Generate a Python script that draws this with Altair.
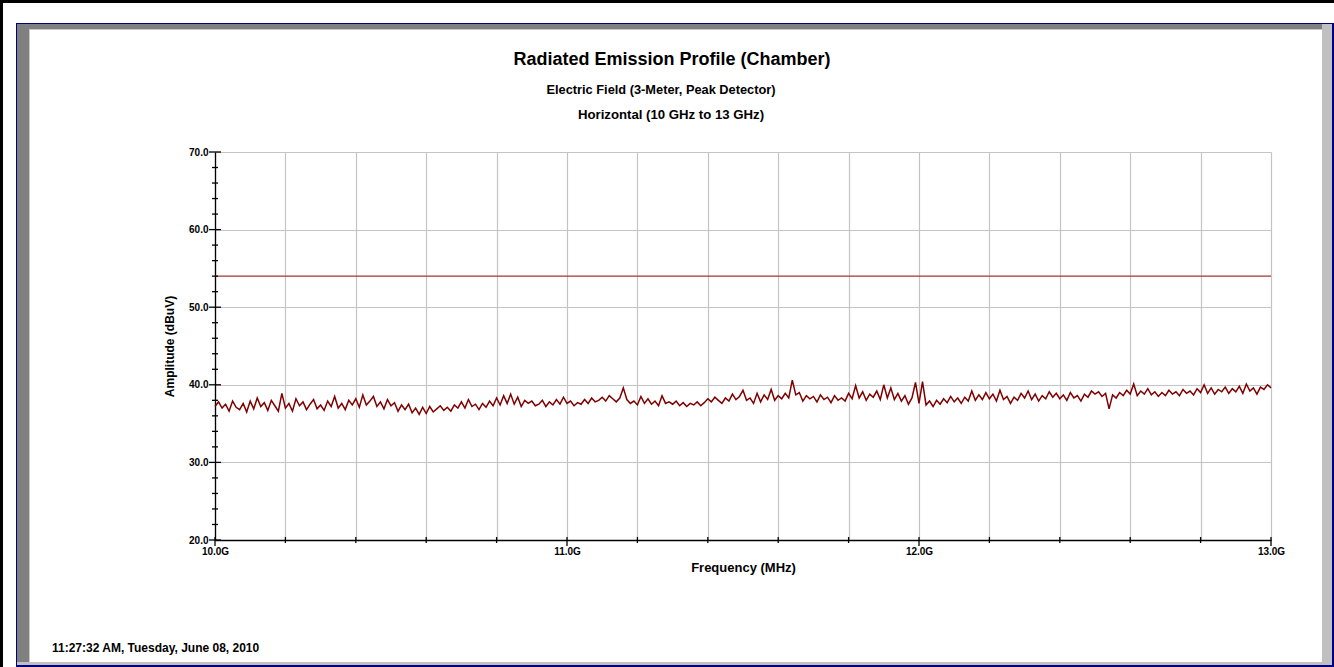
import altair as alt
import pandas as pd

# ---------------- data ----------------
freq_start = 10.0
freq_step = 0.01
amplitude = [
    # 10.00 - 10.99
    37.2, 37.8, 37.0, 37.5, 36.6, 37.9, 37.1, 36.8, 37.6, 36.5,
    37.9, 36.9, 38.3, 37.2, 37.7, 36.7, 38.0, 37.3, 36.6, 38.9,
    37.0, 37.6, 36.6, 38.2, 37.3, 37.8, 36.8, 37.5, 38.1, 36.9,
    37.4, 36.7, 37.9, 37.2, 38.5, 37.0, 37.6, 36.8, 38.0, 37.4,
    38.2, 37.1, 38.7, 37.4, 37.9, 38.5, 37.2, 37.8, 36.9, 38.1,
    37.3, 37.7, 36.6, 37.4, 36.8, 37.5, 36.4, 37.0, 36.2, 37.1,
    36.3, 37.2, 36.5, 36.9, 37.3, 36.7, 37.1, 36.6, 37.4, 37.0,
    37.8, 37.0, 38.1, 37.2, 37.5, 36.8, 37.6, 37.1, 37.9, 37.3,
    38.3, 37.4, 38.6, 37.6, 38.8, 37.5, 38.4, 37.2, 38.0, 37.6,
    37.9, 37.3, 37.5, 38.0, 37.2, 37.8, 37.4, 38.1, 37.5, 38.4,
    # 11.00 - 11.99
    37.6, 37.9, 37.3, 37.7, 37.5, 38.1, 37.6, 38.3, 37.8, 38.0,
    38.4, 37.9, 38.6, 38.2, 37.8, 38.3, 39.6, 38.1, 37.6, 37.9,
    37.4, 38.5, 37.6, 38.2, 37.5, 37.9, 37.3, 38.6, 37.6, 37.8,
    37.5, 37.9, 37.3, 37.7, 37.2, 37.6, 37.4, 37.8, 37.3, 37.7,
    38.2, 37.8, 38.4, 38.0, 37.6, 38.3, 37.9, 38.8, 38.1, 38.5,
    39.3, 38.0, 38.3, 37.6, 38.9, 37.8, 38.7, 38.1, 39.4, 38.0,
    38.6, 38.2, 38.9, 38.3, 40.6, 38.7, 39.0, 37.9, 38.6, 38.2,
    38.5, 37.8, 38.7, 38.1, 38.4, 37.7, 38.6, 38.0, 38.3, 37.9,
    38.9, 38.2, 39.9, 38.3, 39.1, 38.0, 38.8, 38.4, 39.2, 38.1,
    40.0, 38.3, 39.6, 38.1, 38.9, 37.9, 38.6, 37.5, 38.3, 40.3,
    # 12.00 - 12.99
    37.6, 40.4, 37.4, 37.9, 37.2, 38.0, 37.5, 38.2, 37.7, 38.5,
    37.8, 38.3, 37.6, 38.4, 37.9, 39.2, 38.0, 38.7, 38.1, 39.0,
    38.2, 38.8, 37.9, 39.3, 38.1, 38.5, 37.6, 38.4, 38.0, 38.9,
    38.3, 39.2, 38.1, 38.8, 37.9, 38.6, 38.2, 39.1, 38.4, 38.9,
    38.2, 38.7, 38.0, 39.0, 38.3, 38.6, 37.9, 38.8, 38.4, 39.2,
    38.8, 39.1, 38.5, 38.9, 36.9, 38.7, 38.3, 39.0, 38.6, 39.3,
    38.8, 40.1, 38.6, 39.2, 38.8, 39.5, 38.7, 39.1, 38.5, 39.0,
    38.6, 39.3, 38.8, 39.1, 38.6, 39.4, 38.9, 39.2, 38.7, 39.5,
    39.0, 40.0, 38.9, 39.6, 38.8, 39.4, 39.1, 39.7, 38.9, 39.5,
    39.1, 39.8, 38.9, 40.1, 39.2, 39.6, 38.8, 39.7, 39.4, 40.0,
    # 13.00
    39.6,
]
limit_value = 54.0

x_grid_values = [10.0, 10.2, 10.4, 10.6, 10.8, 11.0, 11.2, 11.4, 11.6, 11.8,
                 12.0, 12.2, 12.4, 12.6, 12.8, 13.0]
x_major_values = [10.0, 11.0, 12.0, 13.0]
y_major_values = [20.0, 30.0, 40.0, 50.0, 60.0, 70.0]
y_minor_values = [22, 24, 26, 28, 32, 34, 36, 38, 42, 44, 46, 48,
                  52, 54, 56, 58, 62, 64, 66, 68]
x_minor_values = [v for v in x_grid_values if v not in x_major_values]

title_text = "Radiated Emission Profile (Chamber)"
subtitle1 = "Electric Field (3-Meter, Peak Detector)"
subtitle2 = "Horizontal (10 GHz to 13 GHz)"
x_title = "Frequency (MHz)"
y_title = "Amplitude (dBuV)"
footer_text = "11:27:32 AM, Tuesday, June 08, 2010"

# ---------------- layout ----------------
W, H = 1334, 667
PL, PT = 215, 152          # plot origin (absolute)
PW, PH = 1056, 388         # plot size
FONT = "Liberation Sans"

def ax(v):
    return alt.value(v - PL)

def ay(v):
    return alt.value(v - PT)

df = pd.DataFrame({
    "freq": [round(freq_start + i * freq_step, 4) for i in range(len(amplitude))],
    "amp": amplitude,
})

xscale = alt.Scale(domain=[10.0, 13.0], nice=False, zero=False)
yscale = alt.Scale(domain=[20.0, 70.0], nice=False, zero=False)

one = alt.Data(values=[{"a": 1}])

def rect(x1, x2, y1, y2, color):
    return alt.Chart(one).mark_rect(color=color).encode(
        x=ax(x1), x2=ax(x2), y=ay(y1), y2=ay(y2))

frame = [
    rect(0, W, 0, 3, "black"),
    rect(0, 3, 0, H, "black"),
    # blue outline
    rect(16, 1334, 23, 24, "#000080"),
    rect(16, 17, 23, 666, "#000080"),
    rect(1332, 1334, 23, 666, "#000080"),
    rect(16, 1334, 665, 667, "#000080"),
    # bevel
    rect(17, 29, 24, 662, "#808080"),
    rect(17, 1322, 24, 29, "#808080"),
    rect(1322, 1332, 24, 665, "#c0c0c0"),
    rect(17, 1332, 662, 665, "#c0c0c0"),
    rect(29, 30, 29, 662, "#c8c8c8"),
    rect(29, 1322, 29, 30, "#c8c8c8"),
]

line = alt.Chart(df).mark_line(color="#800000", strokeWidth=1.5).encode(
    x=alt.X("freq:Q", scale=xscale,
            axis=alt.Axis(values=x_grid_values, grid=True, gridColor="#c4c4c4",
                          gridWidth=1.2, ticks=False, domainColor="black",
                          domainWidth=1.3, labelPadding=6, labelFlush=False,
                          labelExpr="abs(datum.value - round(datum.value)) < 0.001 ? format(datum.value, '.1f') + 'G' : ''",
                          title=x_title, titlePadding=5, titleFontSize=13)),
    y=alt.Y("amp:Q", scale=yscale,
            axis=alt.Axis(values=y_major_values, grid=True, gridColor="#c4c4c4",
                          gridWidth=1.2, ticks=False, domainColor="black",
                          domainWidth=1.3, labelPadding=7, format=".1f",
                          labelFlush=False,
                          title=y_title, titlePadding=12, titleFontSize=12)),
)

limit = alt.Chart(pd.DataFrame({"v": [limit_value]})).mark_rule(
    color="#a83232", strokeWidth=1.2).encode(
    y=alt.Y("v:Q", scale=yscale), x=alt.value(0), x2=alt.value(PW))

ymaj = alt.Chart(pd.DataFrame({"v": y_major_values})).mark_rule(color="black", strokeWidth=1.3).encode(
    y=alt.Y("v:Q", scale=yscale), x=alt.value(-6), x2=alt.value(6))
ymin = alt.Chart(pd.DataFrame({"v": y_minor_values})).mark_rule(color="black", strokeWidth=1.3).encode(
    y=alt.Y("v:Q", scale=yscale), x=alt.value(-3), x2=alt.value(3))
xmaj = alt.Chart(pd.DataFrame({"v": x_major_values})).mark_rule(color="black", strokeWidth=1.3).encode(
    x=alt.X("v:Q", scale=xscale), y=alt.value(PH - 3), y2=alt.value(PH + 6))
xmin = alt.Chart(pd.DataFrame({"v": x_minor_values})).mark_rule(color="black", strokeWidth=1.3).encode(
    x=alt.X("v:Q", scale=xscale), y=alt.value(PH - 3), y2=alt.value(PH + 3))

def text(t, x, y, size, align="center"):
    return alt.Chart(alt.Data(values=[{"t": t}])).mark_text(
        font=FONT, fontWeight="bold", fontSize=size, align=align,
        baseline="middle", color="black").encode(
        text="t:N", x=ax(x), y=ay(y))

texts = [
    text(title_text, 672, 60, 18),
    text(subtitle1, 661, 90, 12.8),
    text(subtitle2, 671, 115, 13.2),
    text(footer_text, 52, 648, 12),
]
texts[-1] = alt.Chart(alt.Data(values=[{"t": footer_text}])).mark_text(
    font=FONT, fontWeight="bold", fontSize=12, align="left",
    baseline="middle", color="black").encode(text="t:N", x=ax(52), y=ay(648))

chart = alt.layer(*frame, line, limit, ymaj, ymin, xmaj, xmin, *texts).properties(
    width=PW, height=PH,
    autosize=alt.AutoSizeParams(type="none"),
    padding={"left": PL, "top": PT, "right": W - PL - PW, "bottom": H - PT - PH},
    background="white",
).configure_view(stroke=None).configure_axis(
    labelFont=FONT, labelFontWeight="bold", labelFontSize=10, labelColor="black",
    titleFont=FONT, titleFontWeight="bold", titleColor="black",
)

chart.save("out.html", embed_options={"renderer": "svg", "actions": False})
